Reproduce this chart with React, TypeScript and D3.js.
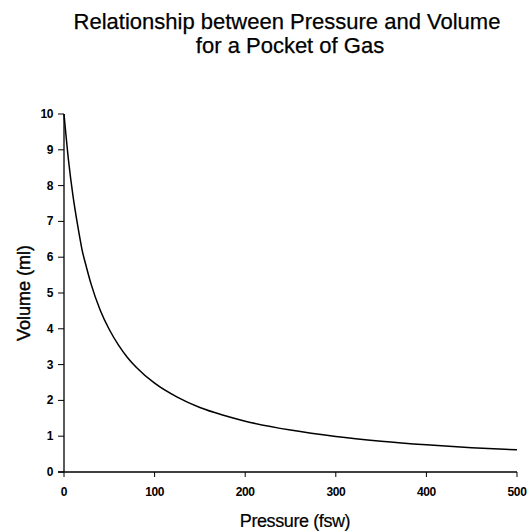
import * as d3 from 'd3'

// values
const pressure = [0, 5, 10, 15, 20, 25, 30, 40, 50, 60, 70, 80, 100, 125, 150, 175, 200, 250, 300, 350, 400, 450, 500]
const volume = [10, 8.7, 7.7, 6.9, 6.2, 5.7, 5.24, 4.52, 3.98, 3.55, 3.2, 2.92, 2.48, 2.09, 1.8, 1.59, 1.42, 1.17, 0.99, 0.86, 0.76, 0.68, 0.62]
const xTicks = [0, 100, 200, 300, 400, 500]
const yTicks = [0, 1, 2, 3, 4, 5, 6, 7, 8, 9, 10]

const W = 527
const H = 531
const font = '"Liberation Sans", Arial, sans-serif'

export default function App() {
  const x = d3.scaleLinear().domain([0, 500]).range([64, 517])
  const y = d3.scaleLinear().domain([0, 10]).range([472, 114])

  const line = d3
    .line<number>()
    .x((_, i) => x(pressure[i]))
    .y(d => y(d))
    .curve(d3.curveMonotoneX)

  return (
    <svg width={W} height={H} style={{ position: 'absolute', left: 0, top: 0, background: '#fff' }}>
      <g fontFamily={font} fill="#000" stroke="#000" strokeWidth={0.25}>
        <text x={287} y={29} fontSize={22} textAnchor="middle">
          Relationship between Pressure and Volume
        </text>
        <text x={290} y={53} fontSize={22} textAnchor="middle">
          for a Pocket of Gas
        </text>
      </g>

      {/* y axis */}
      <line x1={x(0)} x2={x(0)} y1={y(10)} y2={y(0)} stroke="#000" strokeWidth={1.3} />
      {yTicks.map(t => (
        <g key={t}>
          <line x1={x(0) - 6} x2={x(0)} y1={y(t)} y2={y(t)} stroke="#000" />
          <text x={x(0) - 11} y={y(t) + 4} fontSize={12} fontWeight="bold" textAnchor="end" fontFamily={font} letterSpacing={-0.4}>
            {t}
          </text>
        </g>
      ))}

      {/* x axis */}
      <line x1={x(0) - 6} x2={x(500)} y1={y(0)} y2={y(0)} stroke="#000" strokeWidth={1.3} />
      {xTicks.map(t => (
        <g key={t}>
          <line x1={x(t)} x2={x(t)} y1={y(0)} y2={y(0) + 5} stroke="#000" />
          <text x={x(t)} y={y(0) + 24} fontSize={12} fontWeight="bold" textAnchor="middle" fontFamily={font} letterSpacing={-0.4}>
            {t}
          </text>
        </g>
      ))}

      <path d={line(volume) ?? ''} fill="none" stroke="#000" strokeWidth={1.5} />

      <text x={295} y={527} fontSize={18} textAnchor="middle" fontFamily={font} letterSpacing={-0.4} stroke="#000" strokeWidth={0.2}>
        Pressure (fsw)
      </text>
      <text
        transform={`translate(30,293) rotate(-90)`}
        fontSize={18}
        textAnchor="middle"
        fontFamily={font}
        stroke="#000"
        strokeWidth={0.4}
      >
        Volume (ml)
      </text>
    </svg>
  )
}
